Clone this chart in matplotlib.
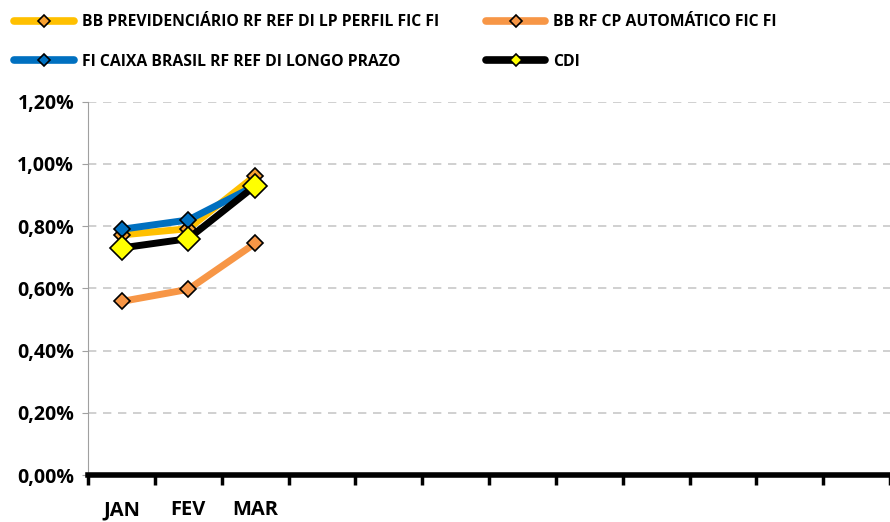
import matplotlib.pyplot as plt
from matplotlib.ticker import FixedLocator, FuncFormatter, NullFormatter

plt.rcParams['font.family'] = ['Open Sans', 'DejaVu Sans']

meses = ['JAN', 'FEV', 'MAR', '', '', '', '', '', '', '', '', '']
bb_prev = [0.772, 0.792, 0.962]
bb_rf_cp = [0.558, 0.597, 0.745]
caixa = [0.790, 0.820, 0.930]
cdi = [0.730, 0.760, 0.930]

series = [
    ('BB PREVIDENCIÁRIO RF REF DI LP PERFIL FIC FI', bb_prev, '#FFC000', '#F7A030', 8),
    ('BB RF CP AUTOMÁTICO FIC FI', bb_rf_cp, '#F79646', '#F79646', 8),
    ('FI CAIXA BRASIL RF REF DI LONGO PRAZO', caixa, '#0070C0', '#0070C0', 8),
    ('CDI', cdi, '#000000', '#FFFF00', 12),
]

fig, ax = plt.subplots(figsize=(8.9, 5.22), dpi=100)
fig.subplots_adjust(left=0.099, right=1.0, top=0.805, bottom=0.09)

x = list(range(len(meses)))
linhas = []
for nome, vals, cor, face, ms in series:
    ln, = ax.plot(x[:len(vals)], vals, color=cor, lw=5, marker='D', ms=ms,
                  mfc=face, mec='black', mew=1.2, label=nome, solid_capstyle='round')
    linhas.append(ln)

ax.set_xlim(-0.5, len(meses) - 0.5)
ax.set_ylim(0, 1.2)
ax.yaxis.set_major_locator(FixedLocator([0, 0.2, 0.4, 0.6, 0.8, 1.0, 1.2]))
ax.yaxis.set_major_formatter(FuncFormatter(lambda v, p: f'{v:.2f}%'.replace('.', ',')))
ax.grid(axis='y', color='#C8C8C8', ls=(0, (5, 4)), lw=1.2)
ax.set_axisbelow(True)

ax.xaxis.set_major_locator(FixedLocator([i - 0.5 for i in range(len(meses) + 1)]))
ax.xaxis.set_major_formatter(NullFormatter())
ax.xaxis.set_minor_locator(FixedLocator(x))
ax.set_xticklabels(meses, minor=True)
ax.tick_params(axis='x', which='minor', length=0, pad=18, labelsize=14.5)
ax.tick_params(axis='x', which='major', length=7, width=2.5, color='black')
ax.tick_params(axis='y', length=4, color='#A0A0A0', labelsize=14, pad=6)
for lbl in ax.get_xticklabels(minor=True) + ax.get_yticklabels():
    lbl.set_fontweight('bold')

ax.spines['top'].set_visible(False)
ax.spines['right'].set_visible(False)
ax.spines['left'].set_color('#A0A0A0')
ax.spines['bottom'].set_linewidth(4)

# ordem das colunas igual a do Excel (preenche por linha)
ordem = [linhas[0], linhas[2], linhas[1], linhas[3]]
leg = fig.legend(ordem, [l.get_label() for l in ordem], loc='upper left',
                 bbox_to_anchor=(0.0, 1.0), ncol=2, frameon=False,
                 prop={'weight': 'bold', 'size': 11.3}, handlelength=3.8,
                 handletextpad=0.5, columnspacing=3.0, labelspacing=1.5)
for h in leg.legend_handles:
    h.set_markersize(6)
    h.set_linewidth(5.5)

plt.savefig('out.png')
